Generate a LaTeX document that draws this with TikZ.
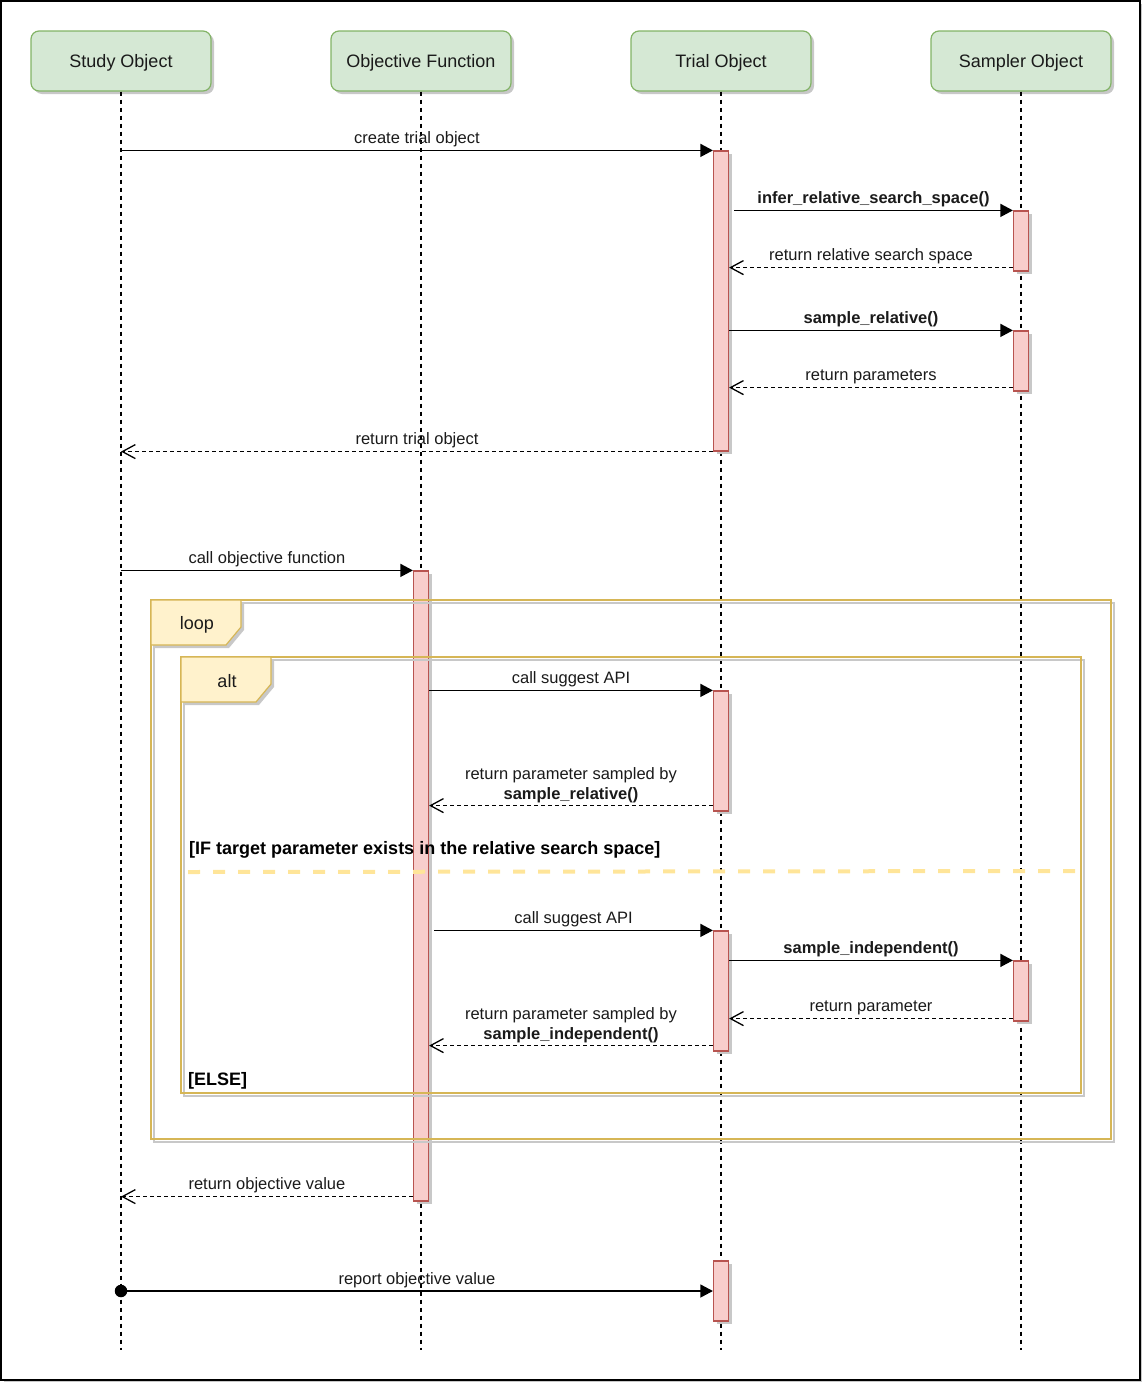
\documentclass[tikz,border=0pt]{standalone}
\usepackage{fontspec}
\setmainfont{Liberation Sans}
\usetikzlibrary{arrows.meta,shadows}
\definecolor{partfill}{HTML}{D5E8D4}
\definecolor{partdraw}{HTML}{82B366}
\definecolor{actfill}{HTML}{F8CECC}
\definecolor{actdraw}{HTML}{B85450}
\definecolor{framedraw}{HTML}{D6B656}
\definecolor{tabfill}{HTML}{FFF2CC}
\definecolor{sepcol}{HTML}{FFE599}
\definecolor{shadowcol}{HTML}{C8C8C8}
\definecolor{txt}{HTML}{1A1A1A}
\begin{document}
\begin{tikzpicture}[x=1pt,y=-1pt,
  part/.style={draw=partdraw, fill=partfill, line width=1.2pt, rounded corners=8pt,
    minimum width=180pt, minimum height=60pt, inner sep=0pt, text depth=0pt,
    font=\fontsize{18}{21}\selectfont, text=txt,
    general shadow={fill=shadowcol, shadow xshift=3pt, shadow yshift=-3pt}},
  act/.style={draw=actdraw, fill=actfill, line width=1.2pt, minimum width=15pt, inner sep=0pt,
    general shadow={fill=shadowcol, shadow xshift=3pt, shadow yshift=-3pt}},
  life/.style={line width=1.2pt, dash pattern=on 4pt off 4pt},
  sync/.style={line width=1.3pt, -{Triangle[length=12.5pt,width=13pt]}},
  ret/.style={line width=1.3pt, dash pattern=on 4pt off 3pt, -{Straight Barb[length=13pt,width=14pt]}},
  lbl/.style={font=\fontsize{16.5}{20}\selectfont, anchor=base, inner sep=0pt, text=txt, midway, yshift=7pt},
  blbl/.style={lbl, font=\fontsize{16.5}{20}\selectfont\bfseries},
  frameshadow/.style={draw=shadowcol, line width=1.2pt},
  frameline/.style={draw=framedraw, line width=1.2pt},
  tabtxt/.style={font=\fontsize{18}{21}\selectfont, text=txt, inner sep=0pt, anchor=base},
  guard/.style={font=\fontsize{18}{21}\selectfont\bfseries, text=black, inner sep=0pt, anchor=base west},
]
\useasboundingbox (0,0) rectangle (1142,1382);
% outer border
\draw[shadowcol, line width=1.5pt] (4,1381.3) -- (1141.3,1381.3) -- (1141.3,4);
\draw[line width=1.5pt] (1,1) rectangle (1140,1380);

% participants
\node[part] (study) at (121,61) {Study Object};
\node[part] (objf) at (421,61) {Objective Function};
\node[part] (trial) at (721,61) {Trial Object};
\node[part] (sampler) at (1021,61) {Sampler Object};

% lifeline ends
\coordinate (studyend) at (121,1350);
\coordinate (objfend) at (421,1350);
\coordinate (trialend) at (721,1350);
\coordinate (samplerend) at (1021,1350);
\draw[life] (study.south) -- (studyend);
\draw[life] (objf.south) -- (objfend);
\draw[life] (trial.south) -- (trialend);
\draw[life] (sampler.south) -- (samplerend);

% activations
\node[act, minimum height=300pt] (actT1) at (721,301) {};
\node[act, minimum height=60pt] (actS1) at (1021,241) {};
\node[act, minimum height=60pt] (actS2) at (1021,361) {};
\node[act, minimum height=630pt] (actO) at (421,886) {};
\node[act, minimum height=120pt] (actT2) at (721,751) {};
\node[act, minimum height=120pt] (actT3) at (721,991) {};
\node[act, minimum height=60pt] (actS3) at (1021,991) {};
\node[act, minimum height=60pt] (actT4) at (721,1291) {};

% loop frame
\draw[frameshadow] (154,603) rectangle (1114,1142);
\draw[frameline] (151,600) rectangle (1111,1139);
\fill[shadowcol] (154,603) -- (244,603) -- (244,630) -- (229,648) -- (154,648) -- cycle;
\filldraw[fill=tabfill, draw=framedraw, line width=1.2pt] (151,600) -- (241,600) -- (241,627) -- (226,645) -- (151,645) -- cycle;
\node[tabtxt] (looplbl) at (197,629.5) {loop};

% alt frame
\draw[frameshadow] (184,660) rectangle (1084,1096);
\draw[frameline] (181,657) rectangle (1081,1093);
\fill[shadowcol] (184,660) -- (274,660) -- (274,687) -- (259,705) -- (184,705) -- cycle;
\filldraw[fill=tabfill, draw=framedraw, line width=1.2pt] (181,657) -- (271,657) -- (271,684) -- (256,702) -- (181,702) -- cycle;
\node[tabtxt] (altlbl) at (227,687) {alt};

\node[guard] (ifg) at (189,854.5) {[IF target parameter exists in the relative search space]};
\node[guard] (elseg) at (188,1085.5) {[ELSE]};
\draw[sepcol, line width=4pt, dash pattern=on 12pt off 13pt] (188,872) -- (1081,871);

% messages
\draw[sync] (study.center |- actT1.north) -- node[lbl]{create trial object} (actT1.north west);
\draw[sync] ([xshift=5pt]actT1.east |- actS1.north) -- node[blbl]{infer\_relative\_search\_space()} (actS1.north west);
\coordinate (r1) at ([yshift=4pt]actS1.south west);
\draw[ret] (r1) -- node[lbl]{return relative search space} (r1 -| actT1.east);
\draw[sync] (actT1.east |- actS2.north) -- node[blbl]{sample\_relative()} (actS2.north west);
\coordinate (r2) at ([yshift=4pt]actS2.south west);
\draw[ret] (r2) -- node[lbl]{return parameters} (r2 -| actT1.east);
\draw[ret] (actT1.south west) -- node[lbl]{return trial object} (actT1.south west -| study.center);

\draw[sync] (study.center |- actO.north) -- node[lbl]{call objective function} (actO.north west);
\draw[sync] (actO.east |- actT2.north) -- node[lbl]{call suggest API} (actT2.north west);
\coordinate (r3) at ([yshift=6pt]actT2.south west);
\draw[ret] (r3) -- node[blbl, yshift=-1pt]{sample\_relative()} node[lbl, yshift=19pt]{return parameter sampled by} (r3 -| actO.east);

\draw[sync] ([xshift=5pt]actO.east |- actT3.north) -- node[lbl]{call suggest API} (actT3.north west);
\draw[sync] (actT3.east |- actS3.north) -- node[blbl]{sample\_independent()} (actS3.north west);
\coordinate (r4) at ([yshift=3pt]actS3.south west);
\draw[ret] (r4) -- node[lbl]{return parameter} (r4 -| actT3.east);
\coordinate (r5) at ([yshift=6pt]actT3.south west);
\draw[ret] (r5) -- node[blbl, yshift=-1pt]{sample\_independent()} node[lbl, yshift=19pt]{return parameter sampled by} (r5 -| actO.east);

\coordinate (r6) at ([yshift=5pt]actO.south west);
\draw[ret] (r6) -- node[lbl]{return objective value} (r6 -| study.center);

\node[circle, fill=black, minimum size=12.5pt, inner sep=0pt] (dot) at (study.center |- actT4.west) {};
\draw[sync] (dot.center) -- node[lbl]{report objective value} (actT4.west);
\end{tikzpicture}
\end{document}
